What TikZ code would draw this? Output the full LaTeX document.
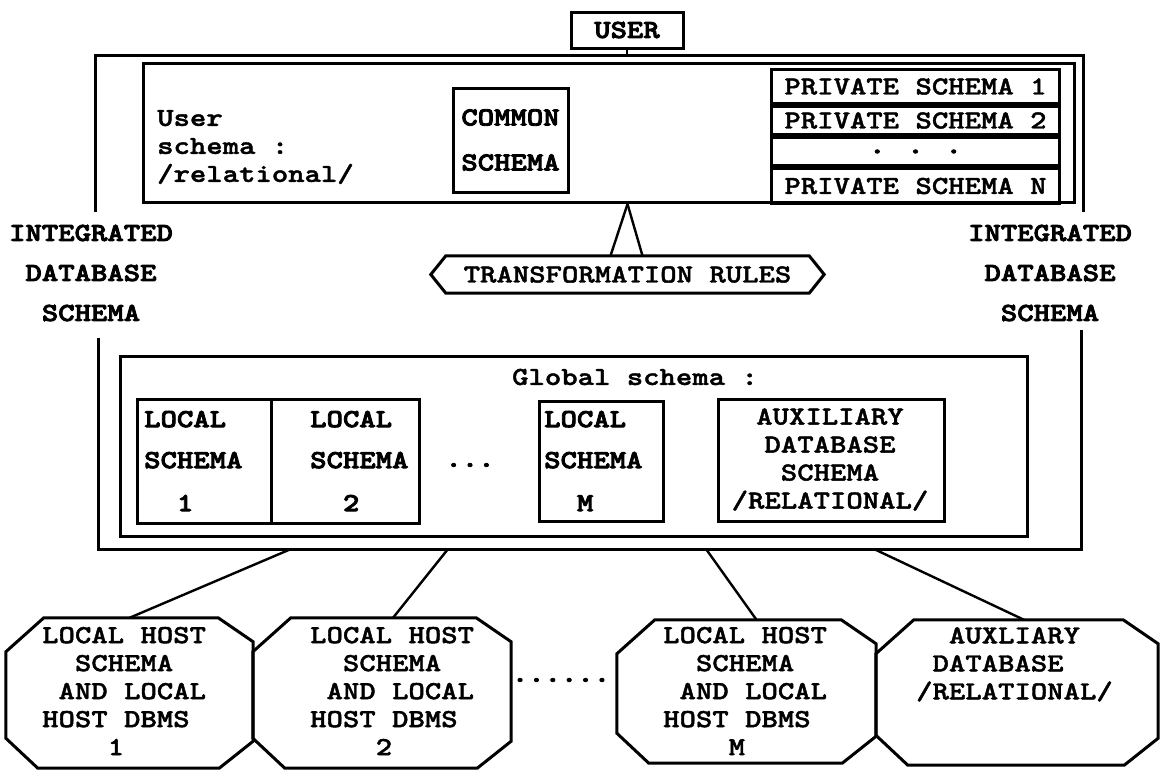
\documentclass[tikz,border=0pt]{standalone}
\usepackage{fontspec}
\setmainfont{lmmonolt10-bold.otf}[FakeStretch=1.2, FakeBold=1.6]
\newfontfamily\heavyfam{lmmonolt10-bold.otf}[FakeStretch=1.2, FakeBold=3.2]
\newcommand\tfnt{\fontsize{26}{28}\selectfont}
\newcommand\hfnt{\heavyfam\fontsize{26}{28}\selectfont}
\newcommand\octo[1]{\draw[box] ([xshift=38pt]#1.north west) -- ([xshift=-35pt]#1.north east) -- ([yshift=-24pt]#1.north east) -- ([yshift=27pt]#1.south east) -- ([xshift=-34pt]#1.south east) -- ([xshift=32pt]#1.south west) -- ([yshift=30pt]#1.south west) -- ([yshift=-34pt]#1.north west) -- cycle;}
\begin{document}
\begin{tikzpicture}[x=1pt,y=-1pt,
  every node/.style={font=\tfnt, inner sep=0pt},
  heavy/.style={font=\hfnt},
  box/.style={draw, line width=3pt},
  frame/.style={line width=3pt},
  conn/.style={line width=2.4pt}]
\useasboundingbox (0,0) rectangle (1161,769);
% user
\node[box, heavy, minimum width=112pt, minimum height=36pt] (user) at (627,30) {USER};
% upper frame
\coordinate (ftl) at (95,212);
\coordinate (ftc) at (95,55);
\coordinate (frc) at (1083,55);
\coordinate (frb) at (1083,212);
\draw[frame] (ftl) -- (ftc) -- (frc) -- (frb);
\draw[conn] (user.south) -- (user.south |- ftc);
% user schema box
\node[box, anchor=north west, minimum width=931pt, minimum height=139pt] (ubox) at (142,62) {};
\node[anchor=west, align=left] (utext) at (157,147) {User\\schema :\\/relational/};
\node[box, heavy, minimum width=115pt, minimum height=104pt, align=center] (common) at (510.5,140) {COMMON\\[17pt]SCHEMA};
\node[box, anchor=north west, minimum width=288pt, minimum height=34pt] (ps1) at (770,68) {PRIVATE SCHEMA 1};
\node[box, anchor=north, minimum width=288pt, minimum height=28pt] (ps2) at (ps1.south) {PRIVATE SCHEMA 2};
\node[box, heavy, anchor=north, minimum width=288pt, minimum height=28pt] (psd) at (ps2.south) {. . .};
\node[box, anchor=north, minimum width=288pt, minimum height=35pt] (psn) at (psd.south) {PRIVATE SCHEMA N};
% transformation rules
\node[minimum width=363pt, minimum height=37pt] (tr) at (627.5,274.5) {TRANSFORMATION RULES};
\draw[box] (tr.north west) -- (tr.north east) -- ([xshift=15pt]tr.east) -- (tr.south east) -- (tr.south west) -- ([xshift=-15pt]tr.west) -- cycle;
\coordinate (apex) at (ubox.south -| tr.north);
\draw[conn] (apex) -- ([xshift=-17pt]tr.north);
\draw[conn] (apex) -- ([xshift=15pt]tr.north);
% side labels
\node[heavy, align=center] (intl) at (91,273) {INTEGRATED\\[12pt]DATABASE\\[12pt]SCHEMA};
\node[heavy, align=center] (intr) at (1050,273) {INTEGRATED\\[12pt]DATABASE\\[12pt]SCHEMA};
% lower frame
\coordinate (lft) at (98,338);
\coordinate (lbl) at (98,549);
\coordinate (lbr) at (1081,549);
\coordinate (lrt) at (1081,330);
\draw[frame] (lft) -- (lbl) -- (lbr) -- (lrt);
% global schema
\node[box, anchor=north west, minimum width=907pt, minimum height=180pt] (glob) at (119,355) {};
\node (gtext) at (635,377) {Global schema :};
\node[box, anchor=north west, minimum width=134pt, minimum height=124pt] (ls1) at (136,398) {};
\node[box, anchor=north west, minimum width=148pt, minimum height=124pt] (ls2) at (270,398) {};
\node[box, anchor=north west, minimum width=124pt, minimum height=120pt] (lsm) at (538,400) {};
\node[box, anchor=north west, minimum width=226pt, minimum height=122pt] (aux) at (717,398) {};
\node[heavy, anchor=west, align=left] (ls1t) at (144,461) {LOCAL\\[13pt]SCHEMA\\[15pt]~~1};
\node[heavy, anchor=west, align=left] (ls2t) at (310,461) {LOCAL\\[13pt]SCHEMA\\[15pt]~~2};
\node[heavy, anchor=west, align=left] (lsmt) at (544,461) {LOCAL\\[13pt]SCHEMA\\[15pt]~~M};
\node[heavy] (ldots) at (470,465) {...};
\node[align=center] (auxt) at (830,459.5) {AUXILIARY\\DATABASE\\SCHEMA\\/RELATIONAL/};
% octagons
\node[minimum width=247pt, minimum height=150pt] (o1) at (129.5,693) {};
\node[minimum width=258pt, minimum height=150pt] (o2) at (382,693) {};
\node[minimum width=259pt, minimum height=143pt] (om) at (746.5,691.5) {};
\node[minimum width=282pt, minimum height=145pt] (oa) at (1017,692.5) {};
\octo{o1}\octo{o2}\octo{om}\octo{oa}
\node[anchor=west, align=left] (o1t) at (42,691) {LOCAL HOST\\~~SCHEMA\\~AND LOCAL\\HOST DBMS\\~~~~1};
\node[anchor=west, align=left] (o2t) at (310,691) {LOCAL HOST\\~~SCHEMA\\~AND LOCAL\\HOST DBMS\\~~~~2};
\node[anchor=west, align=left] (omt) at (663,691) {LOCAL HOST\\~~SCHEMA\\~AND LOCAL\\HOST DBMS\\~~~~M};
\node[anchor=north west, align=left] (oat) at (916,627) {~~AUXLIARY\\~DATABASE\\/RELATIONAL/};
\node[heavy] (odots) at (561,680) {......};
% connectors
\coordinate (b1) at (291,549);
\coordinate (b2) at (448,549);
\coordinate (b3) at (706,549);
\coordinate (b4) at (874,549);
\draw[conn] (b1) -- (o1.north);
\draw[conn] (b2) -- ([xshift=11pt]o2.north);
\draw[conn] (b3) -- ([xshift=10pt]om.north);
\draw[conn] (b4) -- ([xshift=7pt]oa.north);
\end{tikzpicture}
\end{document}
